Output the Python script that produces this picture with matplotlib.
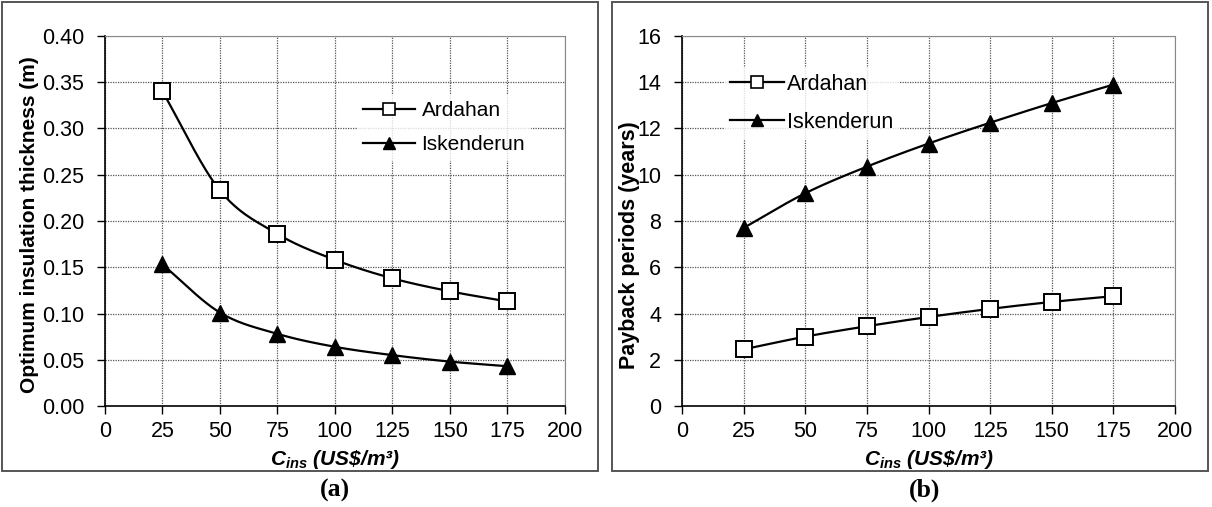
import numpy as np
import matplotlib
matplotlib.use("Agg")
from matplotlib import pyplot as plt
from matplotlib.patches import Rectangle

plt.rcParams["font.family"] = ["Liberation Sans", "DejaVu Sans"]
plt.rcParams["mathtext.fontset"] = "custom"
plt.rcParams["mathtext.bfit"] = "Liberation Sans:bold:italic"
plt.rcParams["mathtext.it"] = "Liberation Sans:italic"
plt.rcParams["mathtext.rm"] = "Liberation Sans"

cost = [25, 50, 75, 100, 125, 150, 175]

thick_ardahan = [0.340, 0.233, 0.186, 0.158, 0.138, 0.124, 0.113]
thick_iskenderun = [0.153, 0.101, 0.078, 0.064, 0.055, 0.048, 0.043]

payback_ardahan = [2.45, 3.00, 3.45, 3.85, 4.20, 4.50, 4.75]
payback_iskenderun = [7.70, 9.20, 10.35, 11.35, 12.25, 13.10, 13.90]


def smooth(x, y, n=30):
    # Catmull-Rom curve through the points, like a spreadsheet's smoothed line
    x = np.asarray(x, float)
    y = np.asarray(y, float)
    px = np.concatenate([[2 * x[0] - x[1]], x, [2 * x[-1] - x[-2]]])
    py = np.concatenate([[2 * y[0] - y[1]], y, [2 * y[-1] - y[-2]]])
    t = np.linspace(0, 1, n)[:, None]
    xs, ys = [], []
    for i in range(1, len(px) - 2):
        for p, out in ((px, xs), (py, ys)):
            p0, p1, p2, p3 = p[i - 1], p[i], p[i + 1], p[i + 2]
            seg = 0.5 * ((2 * p1) + (-p0 + p2) * t
                         + (2 * p0 - 5 * p1 + 4 * p2 - p3) * t ** 2
                         + (-p0 + 3 * p1 - 3 * p2 + p3) * t ** 3)
            out.append(seg.ravel())
    return np.concatenate(xs), np.concatenate(ys)


fig = plt.figure(figsize=(12.12, 5.07), dpi=100)

# panel frames
for x0 in (0.0017, 0.505):
    fig.patches.append(Rectangle((x0, 0.071), 0.4917, 0.925, transform=fig.transFigure,
                                 fill=False, edgecolor="#555555", linewidth=1.4))

ax_a = fig.add_axes([0.0866, 0.1992, 0.3795, 0.7298])
ax_b = fig.add_axes([0.5627, 0.1992, 0.4068, 0.7298])

xlabel = r"$\mathbfit{C_{ins}\ (US\$/m³)}$"


def draw(ax, ya, yi):
    sx, sy = smooth(cost, ya)
    ax.plot(sx, sy, color="black", lw=1.6, zorder=3)
    ax.plot(cost, ya, ls="none", marker="s", ms=12, mfc="white", mec="black", mew=1.4,
            zorder=4)
    sx, sy = smooth(cost, yi)
    ax.plot(sx, sy, color="black", lw=1.6, zorder=3)
    ax.plot(cost, yi, ls="none", marker="^", ms=11, color="black", zorder=4)
    # legend proxies
    ax.plot([], [], color="black", lw=1.6, marker="s", ms=8, mfc="white", mec="black",
            mew=1.2, label="Ardahan")
    ax.plot([], [], color="black", lw=1.6, marker="^", ms=9, label="Iskenderun")
    ax.set_xlim(0, 200)
    ax.set_xticks(range(0, 201, 25))
    ax.grid(True, ls=(0, (1, 1)), color="#555555", lw=0.9)
    ax.tick_params(labelsize=15.5, direction="out", length=6, width=1)
    ax.tick_params(axis="y", pad=9)
    ax.tick_params(axis="x", pad=5)
    ax.set_xlabel(xlabel, fontsize=15, labelpad=4)
    for s in ("top", "right"):
        ax.spines[s].set_color("#888888")
    for s in ("left", "bottom"):
        ax.spines[s].set_linewidth(1.2)
    ax.set_axisbelow(True)


draw(ax_a, thick_ardahan, thick_iskenderun)
ax_a.set_ylim(0, 0.40)
ax_a.set_yticks(np.arange(0, 0.401, 0.05))
ax_a.yaxis.set_major_formatter(matplotlib.ticker.FormatStrFormatter("%.2f"))
ax_a.set_ylabel("Optimum insulation thickness (m)", fontsize=15, fontweight="bold")
ax_a.yaxis.set_label_coords(-0.143, 0.49)
leg = ax_a.legend(loc="upper left", bbox_to_anchor=(0.548, 0.84), frameon=True,
                  fontsize=15, handlelength=2.5, handletextpad=0.3, labelspacing=0.72,
                  borderpad=0.3, borderaxespad=0, fancybox=False)
leg.get_frame().set_edgecolor("none")

draw(ax_b, payback_ardahan, payback_iskenderun)
ax_b.set_ylim(0, 16)
ax_b.set_yticks(range(0, 17, 2))
ax_b.set_ylabel("Payback periods (years)", fontsize=15.5, fontweight="bold")
ax_b.yaxis.set_label_coords(-0.086, 0.435)
leg = ax_b.legend(loc="upper left", bbox_to_anchor=(0.085, 0.916), frameon=True,
                  fontsize=15.5, handlelength=2.5, handletextpad=0.15, labelspacing=0.8,
                  borderpad=0.3, borderaxespad=0, fancybox=False)
leg.get_frame().set_edgecolor("none")

fig.text(0.2765, 0.033, "(a)", family="Liberation Serif", fontweight="bold",
         fontsize=18.5, ha="center", va="center")
fig.text(0.763, 0.033, "(b)", family="Liberation Serif", fontweight="bold",
         fontsize=18.5, ha="center", va="center")

fig.savefig("out.png", dpi=100)
plt.close(fig)
